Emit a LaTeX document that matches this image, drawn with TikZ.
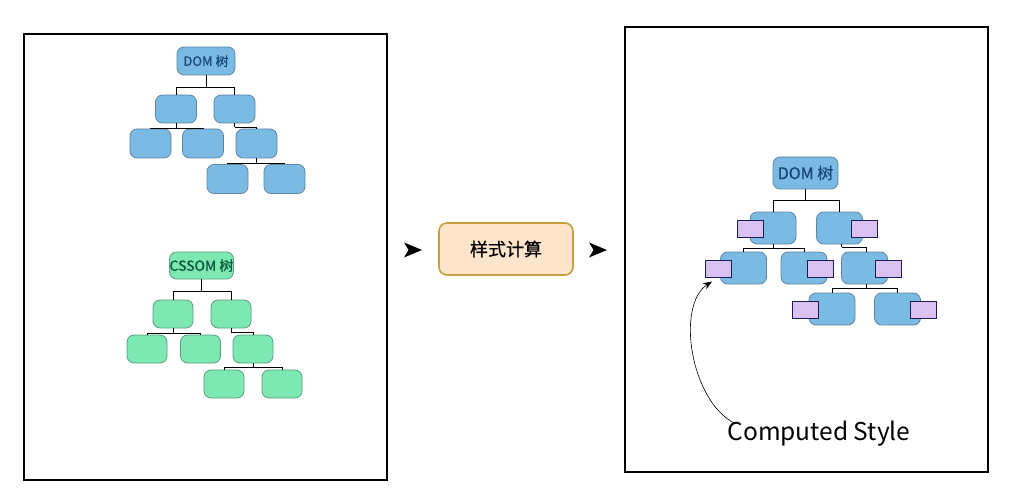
\documentclass[tikz,border=0pt]{standalone}
\usepackage{fontspec}
\setmainfont{Noto Sans CJK SC}
\newfontfamily\semibold[FakeBold=0.6]{Noto Sans CJK SC}
\usetikzlibrary{arrows.meta,calc}
\definecolor{domblue}{HTML}{7BBBE3}
\definecolor{domedge}{HTML}{5E86A0}
\definecolor{domtext}{HTML}{174878}
\definecolor{cssgreen}{HTML}{7DE8B2}
\definecolor{cssedge}{HTML}{5A9E80}
\definecolor{csstext}{HTML}{0B5A3A}
\definecolor{cspurple}{HTML}{D9C2F1}
\definecolor{csedge}{HTML}{1B1B55}
\definecolor{midfill}{HTML}{FDE4CB}
\definecolor{midedge}{HTML}{C6A03E}
\tikzset{
  x=1pt,y=-1pt,
  frame/.style={draw=black,line width=1.5pt},
  dnode/.style={draw=domedge,fill=domblue,rounded corners=7pt,line width=0.8pt,inner sep=0pt,minimum width=41pt,minimum height=28pt,text=domtext,font=\semibold\fontsize{13}{13}\selectfont},
  bnode/.style={dnode,minimum width=46pt,minimum height=32pt,font=\semibold\fontsize{16}{16}\selectfont},
  cnode/.style={draw=cssedge,fill=cssgreen,rounded corners=7pt,line width=0.8pt,inner sep=0pt,minimum width=40pt,minimum height=28pt,text=csstext,font=\semibold\fontsize{14}{14}\selectfont},
  prect/.style={draw=csedge,fill=cspurple,line width=1pt,inner sep=0pt,minimum width=26pt,minimum height=17pt},
  link/.style={draw=black,line width=0.8pt},
  midbox/.style={draw=midedge,fill=midfill,line width=1.6pt,rounded corners=8pt,minimum width=134pt,minimum height=52pt,inner sep=0pt,font=\semibold\fontsize{18}{18}\selectfont},
  headshape/.style={fill=black,draw=none}
}
\begin{document}
\begin{tikzpicture}
\useasboundingbox (0,0) rectangle (1034,500);
\fill[white] (0,0) rectangle (1034,500);
% frames
\draw[frame] (24,34) rectangle (387,480);
\draw[frame] (625,27) rectangle (988,472);

% ---- left DOM tree
\node[dnode,minimum width=58pt] (d0) at (206,61) {DOM 树};
\node[dnode] (d1) at (176,109) {};
\node[dnode] (d2) at (234.5,109) {};
\node[dnode,minimum height=29pt] (d3) at (150.5,143.5) {};
\node[dnode,minimum height=29pt] (d4) at (203,143.5) {};
\node[dnode,minimum height=29pt] (d5) at (256.5,143.5) {};
\node[dnode,minimum height=29pt] (d6) at (227.5,179) {};
\node[dnode,minimum height=29pt] (d7) at (284.5,179) {};
\draw[link] (d0.south) -- ++(0,12) coordinate (jd0);
\draw[link] (jd0) -| (d1.north); \draw[link] (jd0) -| (d2.north);
\draw[link] (d1.south) -- ++(0,5) coordinate (jd1);
\draw[link] (jd1) -| (d3.north); \draw[link] (jd1) -| (d4.north);
\draw[link] (d2.south) -- ++(0,4) coordinate (jd2);
\draw[link] (jd2) -| (d5.north);
\draw[link] (d5.south) -- ++(0,5) coordinate (jd5);
\draw[link] (jd5) -| (d6.north); \draw[link] (jd5) -| (d7.north);

% ---- left CSSOM tree
\node[cnode,minimum width=57pt,minimum height=27pt] (c0) at (201.5,265.5) {CSSOM 树};
\node[cnode] (c1) at (173,314) {};
\node[cnode] (c2) at (231,314) {};
\node[cnode] (c3) at (147,349) {};
\node[cnode] (c4) at (200.5,349) {};
\node[cnode] (c5) at (253,349) {};
\node[cnode] (c6) at (224,384) {};
\node[cnode] (c7) at (282,384) {};
\draw[link] (c0.south) -- ++(0,12) coordinate (jc0);
\draw[link] (jc0) -| (c1.north); \draw[link] (jc0) -| (c2.north);
\draw[link] (c1.south) -- ++(0,5) coordinate (jc1);
\draw[link] (jc1) -| (c3.north); \draw[link] (jc1) -| (c4.north);
\draw[link] (c2.south) -- ++(0,4) coordinate (jc2);
\draw[link] (jc2) -| (c5.north);
\draw[link] (c5.south) -- ++(0,4) coordinate (jc5);
\draw[link] (jc5) -| (c6.north); \draw[link] (jc5) -| (c7.north);

% ---- middle
\fill[headshape] (404,242.5) -- (422,250) -- (404,257.5) -- (408.5,250) -- cycle;
\node[midbox] (calc) at (506,249) {样式计算};
\fill[headshape] (589,242.5) -- (607,250) -- (589,257.5) -- (593.5,250) -- cycle;

% ---- right tree
\node[bnode,minimum width=65pt] (r0) at (805.5,173) {DOM 树};
\node[bnode] (r1) at (773,228) {};
\node[bnode] (r2) at (839.5,228) {};
\node[bnode] (r3) at (743.5,268) {};
\node[bnode] (r4) at (804,268) {};
\node[bnode] (r5) at (864.5,268) {};
\node[bnode] (r6) at (832,309) {};
\node[bnode] (r7) at (897.5,309) {};
\draw[link] (r0.south) -- ++(0,11) coordinate (jr0);
\draw[link] (jr0) -| (r1.north); \draw[link] (jr0) -| (r2.north);
\draw[link] (r1.south) -- ++(0,4) coordinate (jr1);
\draw[link] (jr1) -| (r3.north); \draw[link] (jr1) -| (r4.north);
\draw[link] ([xshift=2pt]r2.south) -- ++(0,3) coordinate (jr2);
\draw[link] (jr2) -| ([xshift=2pt]r5.north);
\draw[link] ([xshift=2pt]r5.south) -- ++(0,4) coordinate (jr5);
\draw[link] (jr5) -| (r6.north); \draw[link] (jr5) -| (r7.north);
\node[prect] (p1) at (750,228.5) {};
\node[prect] (p2) at (864.5,228.5) {};
\node[prect] (p3) at (718,268.5) {};
\node[prect] (p4) at (820.5,268.5) {};
\node[prect] (p5) at (888,268.5) {};
\node[prect] (p6) at (805.5,310) {};
\node[prect] (p7) at (923,310) {};

% ---- label
\node[font=\fontsize{24.5}{24.5}\selectfont,inner sep=0pt] (cs) at (819,434) {Computed Style};
\draw[line width=0.6pt,-{Stealth[length=9pt,width=7pt]}] ([xshift=7pt,yshift=-2pt]cs.north west) .. controls (690,400) and (676,305) .. ([xshift=-6pt,yshift=-4pt]p3.south);
\end{tikzpicture}
\end{document}
